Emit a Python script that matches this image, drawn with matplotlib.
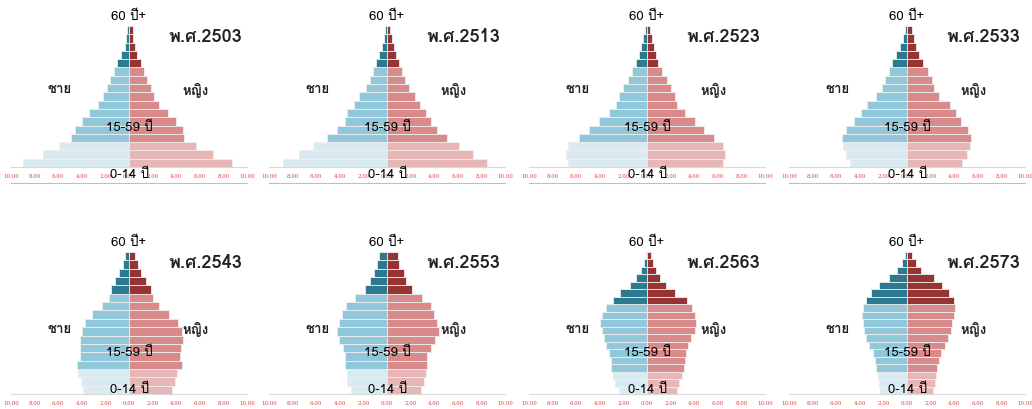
import matplotlib
matplotlib.use("Agg")
import matplotlib.pyplot as plt
from matplotlib import font_manager
from matplotlib.lines import Line2D
from fontTools.ttLib import TTFont

years = ["2503", "2513", "2523", "2533", "2543", "2553", "2563", "2573"]

# values in % of population, youngest group (0-4) first
male = [
    [9.0, 7.3, 5.9, 4.9, 4.6, 4.0, 3.4, 2.6, 2.2, 1.9, 1.6, 1.3, 1.0, 0.7, 0.37, 0.25, 0.2],
    [8.8, 7.5, 6.3, 5.1, 4.2, 3.55, 3.35, 2.8, 2.35, 1.8, 1.45, 1.2, 0.95, 0.65, 0.45, 0.23, 0.2],
    [6.7, 6.85, 6.7, 5.75, 4.9, 4.05, 3.2, 2.6, 2.4, 2.0, 1.65, 1.25, 0.95, 0.7, 0.5, 0.3, 0.2],
    [4.8, 5.15, 5.45, 5.5, 5.2, 4.45, 3.9, 3.35, 2.6, 2.1, 1.9, 1.55, 1.25, 0.9, 0.6, 0.35, 0.2],
    [3.9, 4.1, 4.3, 4.4, 4.15, 4.15, 4.15, 4.0, 3.7, 3.1, 2.3, 1.7, 1.5, 1.15, 0.85, 0.5, 0.35],
    [3.05, 3.35, 3.4, 3.55, 3.55, 3.7, 4.05, 4.2, 4.1, 3.85, 3.45, 2.75, 1.9, 1.4, 1.1, 0.85, 0.7],
    [2.4, 2.7, 2.9, 3.05, 3.05, 3.25, 3.45, 3.65, 3.85, 3.95, 3.8, 3.45, 2.9, 2.3, 1.45, 0.9, 0.55, 0.25, 0.1],
    [2.3, 2.4, 2.5, 2.6, 2.7, 2.9, 3.2, 3.5, 3.65, 3.75, 3.85, 3.75, 3.5, 3.05, 2.35, 1.55, 0.85, 0.4, 0.15],
]
female = [
    [8.7, 7.1, 5.7, 4.7, 4.6, 3.95, 3.3, 2.55, 2.1, 1.85, 1.55, 1.3, 1.0, 0.7, 0.5, 0.35, 0.3],
    [8.5, 7.3, 6.1, 5.1, 4.2, 3.75, 3.3, 2.8, 2.35, 1.85, 1.5, 1.3, 1.0, 0.8, 0.6, 0.4, 0.25],
    [6.45, 6.65, 6.45, 5.7, 4.85, 4.05, 3.2, 2.55, 2.35, 2.05, 1.7, 1.25, 0.95, 0.75, 0.6, 0.4, 0.25],
    [4.7, 5.05, 5.35, 5.4, 5.15, 4.6, 4.15, 3.65, 2.75, 2.3, 2.1, 1.8, 1.35, 1.05, 0.8, 0.6, 0.4],
    [3.65, 3.9, 4.1, 4.45, 4.35, 4.4, 4.6, 4.45, 4.15, 3.4, 2.5, 2.0, 1.85, 1.4, 1.05, 0.8, 0.55],
    [2.9, 3.1, 3.3, 3.4, 3.4, 3.75, 4.1, 4.4, 4.25, 4.0, 3.7, 3.0, 2.1, 1.6, 1.4, 1.05, 0.9],
    [2.5, 2.7, 2.95, 3.1, 3.2, 3.3, 3.45, 3.75, 4.1, 4.15, 4.1, 3.8, 3.4, 2.35, 1.65, 1.1, 0.8, 0.5, 0.3],
    [2.2, 2.35, 2.45, 2.55, 2.7, 2.9, 3.2, 3.5, 3.7, 3.85, 4.0, 4.05, 4.0, 3.55, 3.0, 2.3, 1.2, 0.8, 0.4],
]
ticks = [-10, -8, -6, -4, -2, 0, 2, 4, 6, 8, 10]

# colours: children / working age / elderly
male_cols = ["#d9ebf1", "#91c7da", "#2b7a8f"]
female_cols = ["#e7b7b7", "#d98b8b", "#963333"]


def find_thai_font():
    seen = set()
    for f in font_manager.fontManager.ttflist:
        if f.name in seen:
            continue
        seen.add(f.name)
        try:
            cmap = TTFont(f.fname, fontNumber=0, lazy=True).getBestCmap()
        except Exception:
            continue
        if cmap and 0x0E0D in cmap and 0x0E0A in cmap:
            return f.name
    return None


thai = find_thai_font()
families = ([thai] if thai else []) + ["DejaVu Sans"]
plt.rcParams["font.family"] = families

fig = plt.figure(figsize=(10.32, 4.10), dpi=100)
W, H = 1032.0, 410.0
centers = [129, 387, 647, 907]
rows = [(27, 168), (253, 395)]
# text y positions (axes fraction) per row
txt_y = [
    {"old": 1.07, "title": 0.93, "side": 0.55, "mid": 0.285, "kid": -0.05},
    {"old": 1.07, "title": 0.93, "side": 0.46, "mid": 0.30, "kid": 0.035},
]

for i, yr in enumerate(years):
    r, c = divmod(i, 4)
    top, bot = rows[r]
    ax = fig.add_axes([(centers[c] - 118) / W, 1 - bot / H, 236 / W, (bot - top) / H])
    m = male[i]
    f = female[i]
    n = len(m)
    y = list(range(n))
    grp = [0 if k < 3 else (1 if k < 12 else 2) for k in y]
    ax.barh(y, [-v for v in m], height=1.0, color=[male_cols[g] for g in grp],
            edgecolor="#eeeeee", linewidth=0.6)
    ax.barh(y, f, height=1.0, color=[female_cols[g] for g in grp],
            edgecolor="#eeeeee", linewidth=0.6)
    ax.set_xlim(-10, 10)
    ax.set_ylim(-0.5, n - 0.5)
    ax.set_yticks([])
    ax.set_xticks(ticks)
    ax.set_xticklabels(["%.2f" % abs(t) for t in ticks], fontsize=4,
                       color="#d0443f", family="DejaVu Serif")
    ax.tick_params(axis="x", length=0, pad=4)
    for s in ["top", "left", "right"]:
        ax.spines[s].set_visible(False)
    ax.spines["bottom"].set_color("#d9d9d9")
    ax.spines["bottom"].set_linewidth(0.8)
    ax.add_line(Line2D([0, 1], [-0.11, -0.11], transform=ax.transAxes, color="#bfbfbf",
                       linewidth=0.8, clip_on=False))

    ty = txt_y[r]
    tr = ax.get_xaxis_transform()
    ax.text(0, ty["old"], "60 ปี+", transform=tr, ha="center", va="center", fontsize=9.5)
    ax.text(6.45, ty["title"], "พ.ศ." + yr, transform=tr, ha="center", va="center",
            fontsize=13, fontweight="bold", color="#222222")
    ax.text(-5.9, ty["side"], "ชาย", transform=tr, ha="center", va="center",
            fontsize=9.5, fontweight="bold", color="#222222")
    ax.text(5.6, ty["side"], "หญิง", transform=tr, ha="center", va="center",
            fontsize=9.5, fontweight="bold", color="#222222")
    ax.text(0, ty["mid"], "15-59 ปี", transform=tr, ha="center", va="center", fontsize=9.5)
    ax.text(0, ty["kid"], "0-14 ปี", transform=tr, ha="center", va="center", fontsize=9.5)

fig.savefig("out.png", dpi=100)
